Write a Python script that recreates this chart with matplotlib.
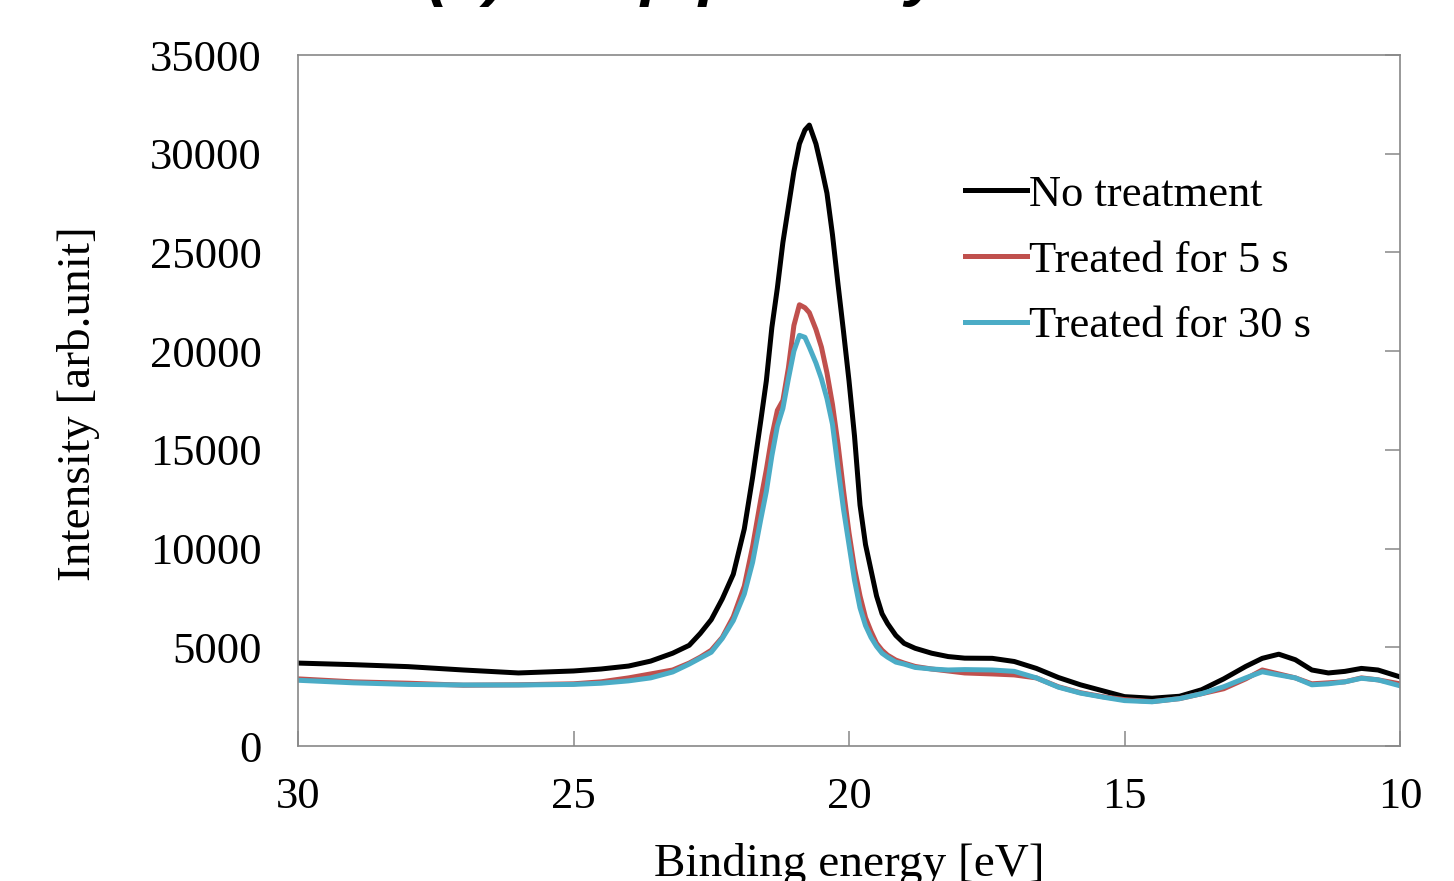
import matplotlib
matplotlib.use("Agg")
import matplotlib.pyplot as plt

# Binding energy grid [eV]
energy = [30.0, 29.0, 28.0, 27.0, 26.0, 25.0, 24.5, 24.0, 23.6, 23.2, 22.9, 22.7, 22.5, 22.3,
          22.1, 21.9, 21.75, 21.6, 21.5, 21.4, 21.3, 21.2, 21.1, 21.0, 20.9, 20.8, 20.72, 20.6,
          20.5, 20.4, 20.3, 20.2, 20.1, 20.0, 19.9, 19.8, 19.7, 19.6, 19.5, 19.4, 19.3, 19.15,
          19.0, 18.8, 18.5, 18.2, 17.9, 17.4, 17.0, 16.6, 16.2, 15.8, 15.4, 15.0, 14.5, 14.0,
          13.6, 13.2, 12.8, 12.5, 12.2, 11.9, 11.6, 11.3, 11.0, 10.7, 10.4, 10.0]

no_treatment = [4200, 4120, 4020, 3850, 3700, 3800, 3900, 4050, 4300, 4700, 5100, 5700, 6400, 7450,
                8700, 11000, 13600, 16500, 18500, 21200, 23200, 25500, 27300, 29100, 30500, 31200, 31450, 30500,
                29300, 28000, 25900, 23400, 21000, 18500, 15700, 12200, 10200, 8900, 7600, 6700, 6200, 5600,
                5200, 4950, 4700, 4530, 4450, 4440, 4280, 3930, 3470, 3100, 2800, 2500, 2420, 2520,
                2850, 3400, 4030, 4440, 4650, 4370, 3850, 3700, 3780, 3930, 3850, 3500]

treated_5s = [3400, 3250, 3180, 3080, 3100, 3150, 3250, 3450, 3650, 3850, 4200, 4500, 4850, 5500,
              6550, 8100, 10100, 12500, 14000, 15700, 17000, 17500, 19150, 21300, 22350, 22200, 21950, 21100,
              20200, 18900, 17300, 15300, 12950, 10800, 9000, 7600, 6500, 5800, 5200, 4850, 4600, 4350,
              4200, 4030, 3900, 3800, 3700, 3650, 3600, 3450, 3000, 2700, 2500, 2350, 2250, 2400,
              2650, 2900, 3400, 3850, 3650, 3450, 3150, 3200, 3250, 3450, 3350, 3150]

treated_30s = [3330, 3200, 3120, 3090, 3090, 3120, 3180, 3300, 3450, 3750, 4150, 4450, 4750, 5450,
               6350, 7700, 9300, 11500, 12900, 14700, 16200, 17100, 18600, 20000, 20800, 20700, 20200, 19400,
               18600, 17600, 16300, 14100, 12000, 10200, 8400, 7000, 6100, 5500, 5050, 4700, 4500, 4250,
               4150, 3980, 3900, 3850, 3870, 3850, 3780, 3450, 2980, 2680, 2480, 2300, 2240, 2400,
               2650, 3000, 3450, 3760, 3600, 3450, 3100, 3150, 3250, 3430, 3350, 3050]

series_labels = ["No treatment", "Treated for 5 s", "Treated for 30 s"]
series_colors = ["#000000", "#C0504D", "#4BACC6"]

x_ticks = [30, 25, 20, 15, 10]
y_ticks = [0, 5000, 10000, 15000, 20000, 25000, 30000, 35000]

title_text = "(a) W 5p peak by UPS."

serif = ["Liberation Serif", "DejaVu Serif"]

fig = plt.figure(figsize=(14.54, 8.81), dpi=100)
ax = fig.add_axes([298 / 1454, 1 - 746 / 881, (1400 - 298) / 1454, (746 - 55) / 881])

for yvals, lab, col in zip([no_treatment, treated_5s, treated_30s], series_labels, series_colors):
    ax.plot(energy, yvals, color=col, lw=3.6, label=lab, solid_joinstyle="round")

ax.set_xlim(30, 10)
ax.set_ylim(0, 35000)
ax.set_xticks(x_ticks)
ax.set_yticks(y_ticks)
ax.set_xticklabels([str(v) for v in x_ticks], fontfamily=serif, fontsize=32)
ax.set_yticklabels([str(v) for v in y_ticks], fontfamily=serif, fontsize=32)

ax.tick_params(axis="y", left=False, right=True, direction="in", length=11, width=1.1,
               color="#888888", labelleft=True, labelright=False, pad=26)
ax.tick_params(axis="x", bottom=True, top=False, direction="in", length=11, width=1.1,
               color="#888888", pad=22)
for s in ax.spines.values():
    s.set_color("#888888")
    s.set_linewidth(1.2)

ax.set_xlabel("Binding energy [eV]", fontfamily=serif, fontsize=34)
ax.xaxis.set_label_coords(0.5, -0.14)
ax.set_ylabel("Intensity [arb.unit]", fontfamily=serif, fontsize=34)
ax.yaxis.set_label_coords(-0.18, 0.495)

leg = ax.legend(loc="upper left", bbox_to_anchor=(0.605, 0.827), frameon=False,
                prop={"family": serif, "size": 32}, handlelength=1.4, handletextpad=0.05,
                labelspacing=0.58, borderaxespad=0, borderpad=0)

fig.text(427 / 1454, 1 + 6 / 881, title_text, ha="left", va="baseline",
         fontfamily="Liberation Sans", fontweight="bold", fontstyle="italic", fontsize=47)

fig.savefig("out.png", dpi=100)
